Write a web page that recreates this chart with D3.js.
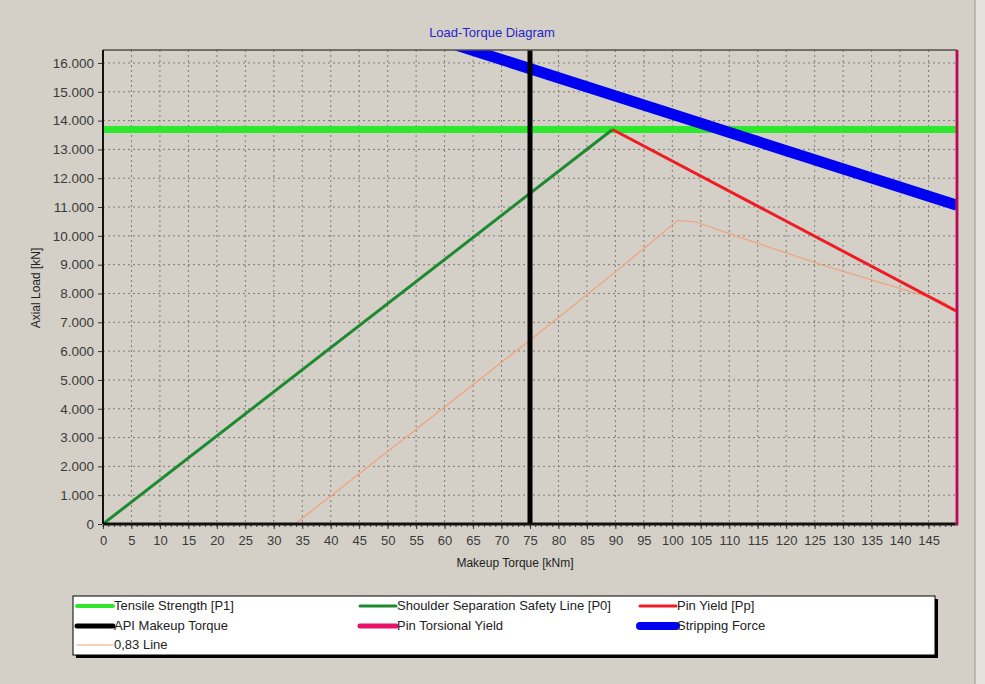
<!DOCTYPE html>
<html>
<head>
<meta charset="utf-8">
<script src="https://cdn.jsdelivr.net/npm/d3@7"></script>
<style>
  html, body { margin: 0; padding: 0; background: #d4d0c8; }
  svg { display: block; }
  text { font-family: "Liberation Sans", Arial, sans-serif; }
</style>
</head>
<body>
<svg id="chart" width="985" height="684"></svg>
<script>
// ---- data ----
const xTickValues = [0,5,10,15,20,25,30,35,40,45,50,55,60,65,70,75,80,85,90,95,100,105,110,115,120,125,130,135,140,145];
const yTickValues = [0,1000,2000,3000,4000,5000,6000,7000,8000,9000,10000,11000,12000,13000,14000,15000,16000];

const tensileStrength = 13690;                 // kN, horizontal
const apiMakeupTorque = 75;                    // kNm, vertical
const pinTorsionalYield = 150;                 // kNm, vertical
const shoulderSeparation = [[0, 0], [89.5, 13690]];
const pinYield = [[89.5, 13690], [150, 7380]];
const strippingForce = [[60, 16750], [150, 11060]];
const line083 = [[33.7, 0], [60, 4060], [75, 6380], [90, 8750], [101, 10540], [104, 10490],
                 [115, 9740], [126.5, 8980], [137, 8350], [147, 7760], [150, 7400]];

const legendItems = [
  { label: "Tensile Strength [P1]", color: "#2ee82e", width: 4 },
  { label: "Shoulder Separation Safety Line [P0]", color: "#1e8a30", width: 3 },
  { label: "Pin Yield [Pp]", color: "#ee1c24", width: 3 },
  { label: "API Makeup Torque", color: "#000000", width: 5 },
  { label: "Pin Torsional Yield", color: "#e8106a", width: 5 },
  { label: "Stripping Force", color: "#0000f0", width: 8 },
  { label: "0,83 Line", color: "#f0a27a", width: 1 }
];

// ---- layout ----
const svg = d3.select("#chart");
const plot = { left: 103, right: 957, top: 50, bottom: 524 };

const x = d3.scaleLinear().domain([0, 150]).range([plot.left, plot.right]);
const y = d3.scaleLinear().domain([0, 16450]).range([plot.bottom, plot.top]);

const loc = d3.formatLocale({ decimal: ",", thousands: ".", grouping: [3], currency: ["", ""] });
const fmtY = loc.format(",d");

// outer frame strip on the right
svg.append("rect").attr("x", 975).attr("y", 0).attr("width", 10).attr("height", 684).attr("fill", "#e4e2dc");
svg.append("line").attr("x1", 975).attr("x2", 975).attr("y1", 0).attr("y2", 684)
  .attr("stroke", "#9a978f").attr("stroke-width", 1);

// title
svg.append("text").attr("x", 492).attr("y", 37).attr("text-anchor", "middle")
  .attr("fill", "#2424c8").attr("font-size", 13).text("Load-Torque Diagram");

// grid
const grid = svg.append("g");
grid.selectAll("line.gx").data(xTickValues.filter(d => d > 0)).join("line")
  .attr("x1", d => x(d)).attr("x2", d => x(d)).attr("y1", plot.top).attr("y2", plot.bottom)
  .attr("stroke", "#7e7c76").attr("stroke-width", 1).attr("stroke-dasharray", "2,3");
grid.selectAll("line.gy").data(yTickValues.filter(d => d > 0)).join("line")
  .attr("x1", plot.left).attr("x2", plot.right).attr("y1", d => y(d)).attr("y2", d => y(d))
  .attr("stroke", "#7e7c76").attr("stroke-width", 1).attr("stroke-dasharray", "2,3");

// clip
svg.append("clipPath").attr("id", "clip").append("rect")
  .attr("x", plot.left).attr("y", plot.top)
  .attr("width", plot.right - plot.left).attr("height", plot.bottom - plot.top);
const g = svg.append("g").attr("clip-path", "url(#clip)");
const line = d3.line().x(d => x(d[0])).y(d => y(d[1]));

// series
g.append("line").attr("x1", x(0)).attr("x2", x(150))
  .attr("y1", y(tensileStrength)).attr("y2", y(tensileStrength))
  .attr("stroke", "#2ee82e").attr("stroke-width", 7);
g.append("path").datum(strippingForce).attr("d", line)
  .attr("fill", "none").attr("stroke", "#0000f0").attr("stroke-width", 11);
g.append("path").datum(line083).attr("d", line)
  .attr("fill", "none").attr("stroke", "#f0a27a").attr("stroke-width", 1.2);
g.append("path").datum(shoulderSeparation).attr("d", line)
  .attr("fill", "none").attr("stroke", "#1e8a30").attr("stroke-width", 3);
g.append("path").datum(pinYield).attr("d", line)
  .attr("fill", "none").attr("stroke", "#ee1c24").attr("stroke-width", 3);
g.append("line").attr("x1", x(apiMakeupTorque)).attr("x2", x(apiMakeupTorque))
  .attr("y1", y(0)).attr("y2", plot.top)
  .attr("stroke", "#000").attr("stroke-width", 5);

// frame
svg.append("line").attr("x1", plot.left).attr("x2", plot.right).attr("y1", plot.top).attr("y2", plot.top)
  .attr("stroke", "#55524c").attr("stroke-width", 1.5);
svg.append("line").attr("x1", plot.left).attr("x2", plot.left).attr("y1", plot.top).attr("y2", plot.bottom)
  .attr("stroke", "#111").attr("stroke-width", 2);
svg.append("line").attr("x1", plot.left).attr("x2", plot.right + 1).attr("y1", plot.bottom).attr("y2", plot.bottom)
  .attr("stroke", "#111").attr("stroke-width", 3);
svg.append("line").attr("x1", x(pinTorsionalYield)).attr("x2", x(pinTorsionalYield))
  .attr("y1", y(0) + 1).attr("y2", plot.top)
  .attr("stroke", "#e8106a").attr("stroke-width", 3);
svg.append("line").attr("x1", x(pinTorsionalYield)).attr("x2", x(pinTorsionalYield))
  .attr("y1", y(0) + 1).attr("y2", plot.top)
  .attr("stroke", "#6a1040").attr("stroke-width", 1);

// axes
const xAxis = d3.axisBottom(x).tickValues(xTickValues).tickSize(4).tickPadding(7);
const gx = svg.append("g").attr("transform", `translate(0,${plot.bottom + 1})`).call(xAxis);
gx.select(".domain").remove();
gx.selectAll("line").attr("stroke", "#333");
gx.selectAll("text").attr("fill", "#3a3a3a").attr("font-size", 13);

// minor ticks on x axis
svg.append("g").selectAll("line").data(d3.range(0, 150, 1)).join("line")
  .attr("x1", d => x(d)).attr("x2", d => x(d))
  .attr("y1", plot.bottom + 1).attr("y2", plot.bottom + 3)
  .attr("stroke", "#333").attr("stroke-width", 1);

const yAxis = d3.axisLeft(y).tickValues(yTickValues).tickFormat(fmtY).tickSize(4).tickPadding(4);
const gy = svg.append("g").attr("transform", `translate(${plot.left - 1},0)`).call(yAxis);
gy.select(".domain").remove();
gy.selectAll("line").attr("stroke", "#333");
gy.selectAll("text").attr("fill", "#3a3a3a").attr("font-size", 13.5);

// axis titles
svg.append("text").attr("x", 515).attr("y", 567).attr("text-anchor", "middle")
  .attr("fill", "#222").attr("font-size", 12).text("Makeup Torque [kNm]");
svg.append("text").attr("transform", "translate(40,288) rotate(-90)").attr("text-anchor", "middle")
  .attr("fill", "#222").attr("font-size", 12).text("Axial Load [kN]");

// legend
const lg = { x: 73, y: 596, w: 862, h: 59 };
svg.append("rect").attr("x", lg.x + 3).attr("y", lg.y + 3).attr("width", lg.w).attr("height", lg.h).attr("fill", "#000");
svg.append("rect").attr("x", lg.x).attr("y", lg.y).attr("width", lg.w).attr("height", lg.h)
  .attr("fill", "#fff").attr("stroke", "#000").attr("stroke-width", 1);
const colX = [77, 360, 640];
const rowY = [606, 626, 645];
const item = svg.append("g").selectAll("g").data(legendItems).join("g")
  .attr("transform", (d, i) => `translate(${colX[i % 3]},${rowY[Math.floor(i / 3)]})`);
item.append("line").attr("x1", 0).attr("x2", 36).attr("y1", 0).attr("y2", 0)
  .attr("stroke", d => d.color).attr("stroke-width", d => d.width).attr("stroke-linecap", "round");
item.append("text").attr("x", 37).attr("y", 4).attr("fill", "#222").attr("font-size", 13)
  .text(d => d.label);
</script>
</body>
</html>
